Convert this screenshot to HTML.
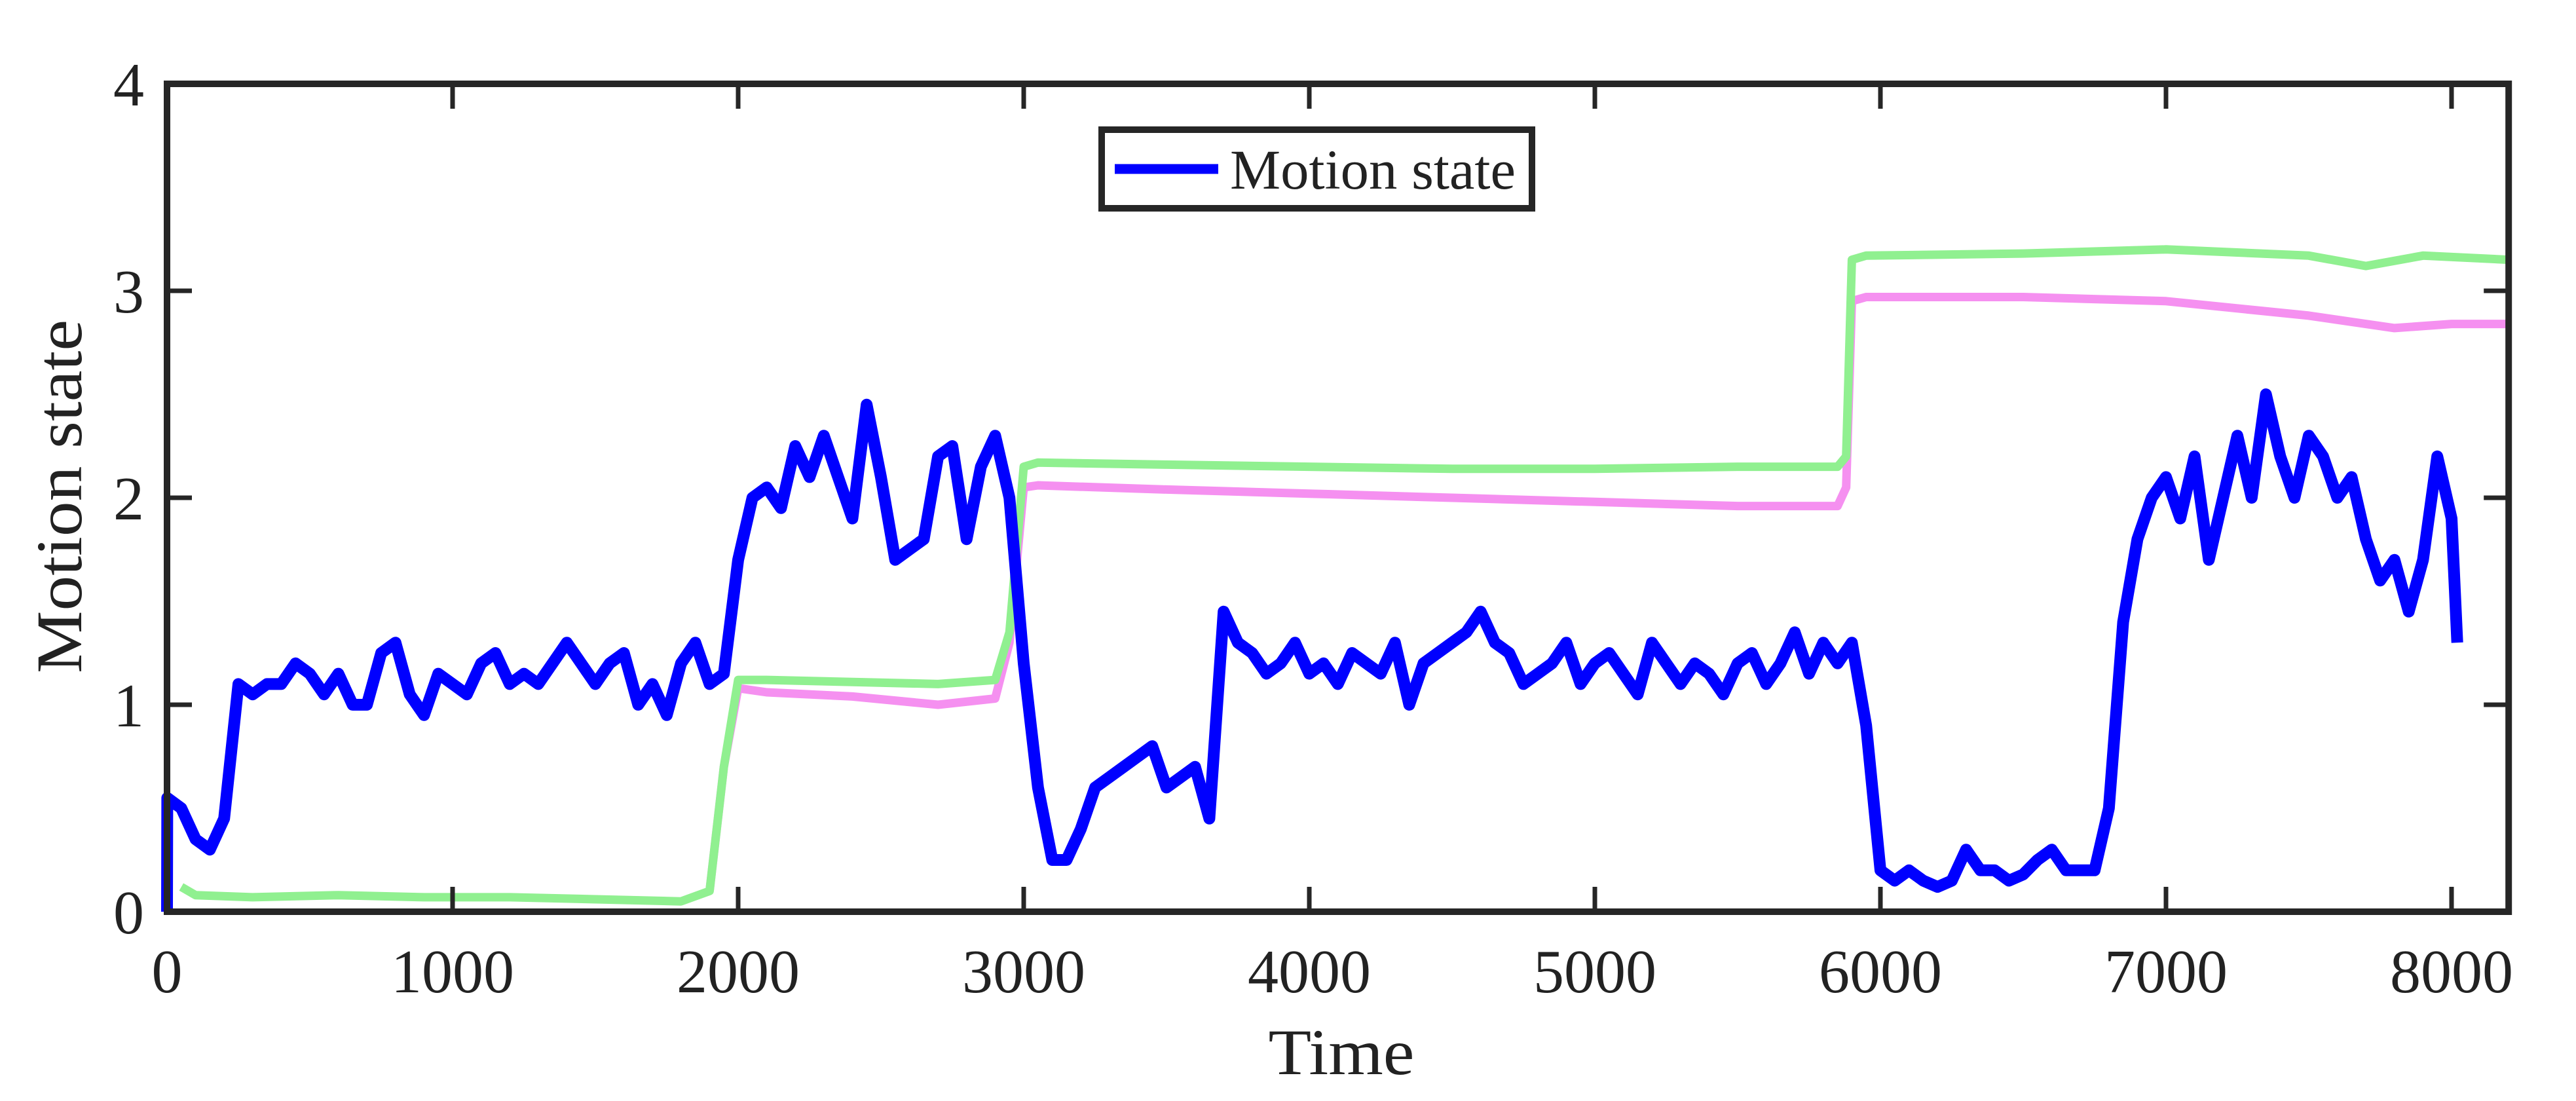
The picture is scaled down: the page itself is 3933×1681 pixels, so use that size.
<!DOCTYPE html>
<html><head><meta charset="utf-8"><style>
html,body{margin:0;padding:0;background:#fff;}
svg{display:block;}
text{font-family:"Liberation Serif",serif;fill:#222;}
</style></head><body>
<svg id="chart" width="3933" height="1681" viewBox="0 0 3933 1681" xmlns="http://www.w3.org/2000/svg">
<g id="series"></g>
<g id="axes"></g>
<g>
<rect x="1682" y="198" width="657" height="120" fill="#fff" stroke="#262626" stroke-width="10"/>
<line x1="1702" y1="258" x2="1860" y2="258" stroke="#0000ff" stroke-width="15"/>
<text x="1878" y="288" font-size="86" textLength="436" lengthAdjust="spacingAndGlyphs">Motion state</text>
</g>
<text x="2048" y="1640" font-size="100" text-anchor="middle" textLength="223" lengthAdjust="spacingAndGlyphs">Time</text>
<text transform="translate(124,758) rotate(-90)" font-size="100" text-anchor="middle" textLength="540" lengthAdjust="spacingAndGlyphs">Motion state</text>
</svg>
<script>
const xTicks = [0,1000,2000,3000,4000,5000,6000,7000,8000];
const yTicks = [0,1,2,3,4];
const blueT = [0,1,50,100,150,200,250,300,350,400,450,500,550,600,650,700,750,800,850,900,950,1000,1050,1100,1150,1200,1250,1300,1350,1400,1450,1500,1550,1600,1650,1700,1750,1800,1850,1900,1950,2000,2050,2100,2150,2200,2250,2300,2350,2400,2450,2500,2550,2600,2650,2700,2750,2800,2850,2900,2950,3000,3050,3100,3150,3200,3250,3300,3350,3400,3450,3500,3550,3600,3650,3700,3750,3800,3850,3900,3950,4000,4050,4100,4150,4200,4250,4300,4350,4400,4450,4500,4550,4600,4650,4700,4750,4800,4850,4900,4950,5000,5050,5100,5150,5200,5250,5300,5350,5400,5450,5500,5550,5600,5650,5700,5750,5800,5850,5900,5950,6000,6050,6100,6150,6200,6250,6300,6350,6400,6450,6500,6550,6600,6650,6700,6750,6800,6850,6900,6950,7000,7050,7100,7150,7200,7250,7300,7350,7400,7450,7500,7550,7600,7650,7700,7750,7800,7850,7900,7950,8000,8020];
const blueV = [0,0.55,0.5,0.35,0.3,0.45,1.1,1.05,1.1,1.1,1.2,1.15,1.05,1.15,1.0,1.0,1.25,1.3,1.05,0.95,1.15,1.1,1.05,1.2,1.25,1.1,1.15,1.1,1.2,1.3,1.2,1.1,1.2,1.25,1.0,1.1,0.95,1.2,1.3,1.1,1.15,1.7,2.0,2.05,1.95,2.25,2.1,2.3,2.1,1.9,2.45,2.1,1.7,1.75,1.8,2.2,2.25,1.8,2.15,2.3,2.0,1.2,0.6,0.25,0.25,0.4,0.6,0.65,0.7,0.75,0.8,0.6,0.65,0.7,0.45,1.45,1.3,1.25,1.15,1.2,1.3,1.15,1.2,1.1,1.25,1.2,1.15,1.3,1.0,1.2,1.25,1.3,1.35,1.45,1.3,1.25,1.1,1.15,1.2,1.3,1.1,1.2,1.25,1.15,1.05,1.3,1.2,1.1,1.2,1.15,1.05,1.2,1.25,1.1,1.2,1.35,1.15,1.3,1.2,1.3,0.9,0.2,0.15,0.2,0.15,0.12,0.15,0.3,0.2,0.2,0.15,0.18,0.25,0.3,0.2,0.2,0.2,0.5,1.4,1.8,2.0,2.1,1.9,2.2,1.7,2.0,2.3,2.0,2.5,2.2,2.0,2.3,2.2,2.0,2.1,1.8,1.6,1.7,1.45,1.7,2.2,1.9,1.3];
const greenT = [50,100,300,600,900,1200,1500,1800,1900,1950,2000,2100,2400,2700,2900,2950,3000,3050,3500,4000,4500,5000,5500,5850,5880,5900,5950,6500,7000,7500,7700,7900,8200];
const greenV = [0.12,0.08,0.07,0.08,0.07,0.07,0.06,0.05,0.1,0.7,1.12,1.12,1.11,1.1,1.12,1.35,2.15,2.17,2.16,2.15,2.14,2.14,2.15,2.15,2.2,3.15,3.17,3.18,3.2,3.17,3.12,3.17,3.15];
const pinkT = [1900,1950,2000,2100,2400,2700,2900,2950,3000,3050,3500,4000,4500,5000,5500,5850,5880,5900,5950,6500,7000,7500,7800,8000,8200];
const pinkV = [0.1,0.7,1.08,1.06,1.04,1.0,1.03,1.3,2.05,2.06,2.04,2.02,2.0,1.98,1.96,1.96,2.05,2.95,2.97,2.97,2.95,2.88,2.82,2.84,2.84];

const X0=255, XS=0.436, Y0=1392, YS=316;
const sx=t=>X0+t*XS, sy=v=>Y0-v*YS;
const NS='http://www.w3.org/2000/svg';
const series=document.getElementById('series'), axes=document.getElementById('axes');
function poly(T,V,color,w){
  const p=document.createElementNS(NS,'polyline');
  p.setAttribute('points',T.map((t,i)=>sx(t).toFixed(1)+','+sy(V[i]).toFixed(1)).join(' '));
  p.setAttribute('fill','none');p.setAttribute('stroke',color);p.setAttribute('stroke-width',w);
  p.setAttribute('stroke-linejoin','round');
  return p;
}
let pk=poly(pinkT,pinkV,'#f590f0',13);


series.appendChild(pk);
let gr=poly(greenT,greenV,'#90f090',13);


series.appendChild(gr);
let bl=poly(blueT,blueV,'#0000ff',18);


series.appendChild(bl);

function line(x1,y1,x2,y2,w){
  const l=document.createElementNS(NS,'line');
  l.setAttribute('x1',x1);l.setAttribute('y1',y1);l.setAttribute('x2',x2);l.setAttribute('y2',y2);
  l.setAttribute('stroke','#262626');l.setAttribute('stroke-width',w);
  axes.appendChild(l);return l;
}
function txt(x,y,s,anchor){
  const t=document.createElementNS(NS,'text');
  t.setAttribute('x',x);t.setAttribute('y',y);t.setAttribute('font-size','94');
  t.setAttribute('text-anchor',anchor);t.textContent=s;axes.appendChild(t);return t;
}
const XR=sx(8200), YT=sy(4);
xTicks.forEach(t=>{
  let a=line(sx(t),Y0,sx(t),Y0-38,7);
  
  
  let b=line(sx(t),YT,sx(t),YT+38,7);
  
  
  let l=txt(sx(t),1515,String(t),'middle');
  
  
});
yTicks.forEach(v=>{
  let a=line(X0,sy(v),X0+38,sy(v),7);
  
  
  let b=line(XR,sy(v),XR-38,sy(v),7);
  
  
  let l=txt(220,sy(v)+33,String(v),'end');
  
  
});
const box=document.createElementNS(NS,'rect');
box.setAttribute('x',X0);box.setAttribute('y',YT);box.setAttribute('width',XR-X0);box.setAttribute('height',Y0-YT);
box.setAttribute('fill','none');box.setAttribute('stroke','#262626');box.setAttribute('stroke-width','10');


axes.appendChild(box);
</script>
</body></html>
